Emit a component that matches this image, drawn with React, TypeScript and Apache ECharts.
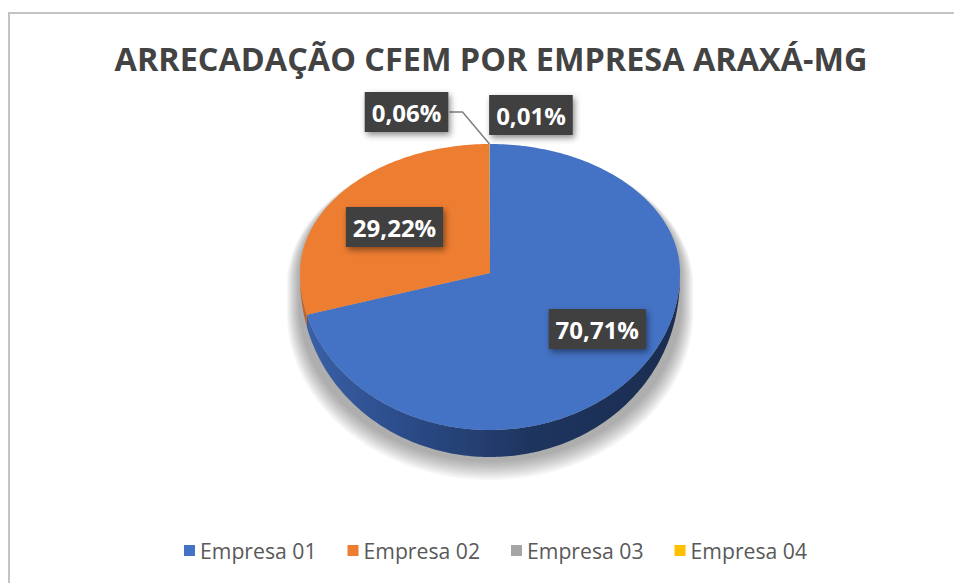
import React, { useEffect, useRef } from 'react';
import * as echarts from 'echarts';

// ---- data ----
const companies = ['Empresa 01', 'Empresa 02', 'Empresa 03', 'Empresa 04'];
const shares = [70.71, 29.22, 0.06, 0.01];
const titleText = 'ARRECADAÇÃO CFEM POR EMPRESA ARAXÁ-MG';

// ---- styles ----
const topColors = ['#4472c4', '#ed7d31', '#a5a5a5', '#ffc000'];
const sideStops = [
  [[0, '#3a61a8'], [0.3, '#2a4a86'], [0.6, '#1e355f'], [1, '#1b2d50']],
  [[0, '#c0642a'], [1, '#8f4a1c']],
  [[0, '#8a8a8a'], [1, '#666666']],
  [[0, '#d9a300'], [1, '#a67c00']],
];

const CX = 490;
const CY = 273;
const RX = 190;
const RY_BACK = 129;
const RY_FRONT = 157;
const DEPTH = 27;

function pt(deg: number, dy = 0, scale = 1): number[] {
  const r = (deg * Math.PI) / 180;
  const c = Math.cos(r);
  const ry = c > 0 ? RY_BACK : RY_FRONT;
  return [CX + RX * scale * Math.sin(r), CY - ry * scale * c + dy];
}

function wallDepth(deg: number): number {
  const c = Math.cos((deg * Math.PI) / 180);
  return c >= 0 ? 0 : DEPTH * Math.pow(-c, 0.6);
}

function arc(a0: number, a1: number, withDepth = false, scale = 1, shift = 0): number[][] {
  const n = Math.max(2, Math.ceil(Math.abs(a1 - a0)));
  const pts: number[][] = [];
  for (let i = 0; i <= n; i++) {
    const a = a0 + ((a1 - a0) * i) / n;
    pts.push(pt(a, (withDepth ? wallDepth(a) : 0) + shift, scale));
  }
  return pts;
}

const total = shares.reduce((a, b) => a + b, 0);
const starts: number[] = [];
shares.reduce((acc, v, i) => {
  starts[i] = acc;
  return acc + v;
}, 0);

// outside label placement for tiny slices (relative to slice edge)
const outside: Array<null | { dx: number; dy: number; line: boolean }> = [
  null,
  null,
  { dx: -83, dy: -32, line: true },
  { dx: 41, dy: -29, line: false },
];

function fmt(v: number): string {
  return ((v / total) * 100).toFixed(2).replace('.', ',') + '%';
}

function makeRender(idx: number) {
  return (params: any, api: any) => {
    const v = api.value(0);
    const s = api.value(1);
    const a0 = (s / total) * 360;
    const a1 = ((s + v) / total) * 360;
    const children: any[] = [];
    const f0 = Math.max(a0, 90);
    const f1 = Math.min(a1, 270);
    if (f1 > f0) {
      children.push({
        type: 'polygon',
        shape: { points: [...arc(f0, f1), ...arc(f1, f0, true)] },
        style: {
          fill: new echarts.graphic.LinearGradient(
            CX - RX, 0, CX + RX, 0,
            sideStops[idx].map((st: any) => ({ offset: st[0], color: st[1] })),
            true
          ),
        },
      });
    }
    children.push({
      type: 'polygon',
      shape: { points: [[CX, CY], ...arc(a0, a1)] },
      style: { fill: api.visual('color') },
    });
    const mid = (a0 + a1) / 2;
    const labelStyle = {
      text: fmt(v),
      fill: '#ffffff',
      fontSize: 24,
      fontWeight: 'bold',
      fontFamily: 'Open Sans',
      lineHeight: 26,
      align: 'center',
      verticalAlign: 'middle',
      backgroundColor: '#3f3f3f',
      padding: [7, 7, 7, 7],
      shadowBlur: 6,
      shadowOffsetX: 2,
      shadowOffsetY: 3,
      shadowColor: 'rgba(0,0,0,0.45)',
    };
    const o = outside[idx];
    if (o) {
      const e = pt(mid);
      const lx = e[0] + o.dx;
      const ly = e[1] + o.dy;
      if (o.line) {
        children.push({
          type: 'polyline',
          shape: { points: [[lx + 43, ly], [lx + 56, ly], e] },
          style: { stroke: '#7f7f7f', lineWidth: 1.5, fill: null },
        });
      }
      children.push({ type: 'text', x: lx, y: ly, style: labelStyle, z2: 10 });
    } else {
      const r = (mid * Math.PI) / 180;
      const c = Math.cos(r);
      const ry = c > 0 ? RY_BACK : RY_FRONT;
      const lx = CX + 6 + 0.67 * RX * Math.sin(r);
      const ly = CY - 0.59 * ry * c;
      children.push({ type: 'text', x: lx, y: ly, style: labelStyle, z2: 10 });
    }
    return { type: 'group', children };
  };
}

export default function App() {
  const ref = useRef<HTMLDivElement>(null);
  useEffect(() => {
    if (!ref.current) return;
    const chart = echarts.init(ref.current, null, { renderer: 'svg' });
    // soft shadow made of stacked, slightly enlarged silhouettes, shifted down
    const shadowLayers: any[] = [];
    for (let k = 10; k >= 1; k--) {
      const sc = 1 + k * 0.007;
      const sh = 3 + k * 0.9;
      shadowLayers.push({
        type: 'polygon',
        z: -5,
        shape: {
          points: [...arc(270, 450, false, sc, sh), ...arc(90, 270, false, sc, DEPTH + sh)],
        },
        style: { fill: 'rgba(0,0,0,0.035)' },
      });
    }
    chart.setOption({
      animation: false,
      backgroundColor: '#ffffff',
      title: {
        text: titleText,
        left: 486,
        top: 37,
        textAlign: 'center',
        textStyle: {
          fontFamily: 'Open Sans',
          fontWeight: 'bold',
          fontSize: 32.4,
          color: '#434343',
        },
      },
      legend: {
        data: companies,
        left: 179,
        top: 535,
        icon: 'rect',
        itemWidth: 11,
        itemHeight: 11,
        itemGap: 31,
        textStyle: { fontFamily: 'Open Sans', fontSize: 21.2, color: '#595959' },
      },
      graphic: [
        {
          type: 'rect',
          z: -10,
          shape: { x: 9, y: 13, width: 1000, height: 620 },
          style: { fill: 'none', stroke: '#c3c3c3', lineWidth: 2 },
        },
        ...shadowLayers,
      ],
      series: companies.map((name, i) => ({
        type: 'custom',
        name,
        coordinateSystem: 'none',
        itemStyle: { color: topColors[i] },
        data: [[shares[i], starts[i]]],
        renderItem: makeRender(i),
      })),
    });
    return () => chart.dispose();
  }, []);
  return (
    <div
      ref={ref}
      style={{ position: 'fixed', left: 0, top: 0, width: 954, height: 583, background: '#fff' }}
    />
  );
}
